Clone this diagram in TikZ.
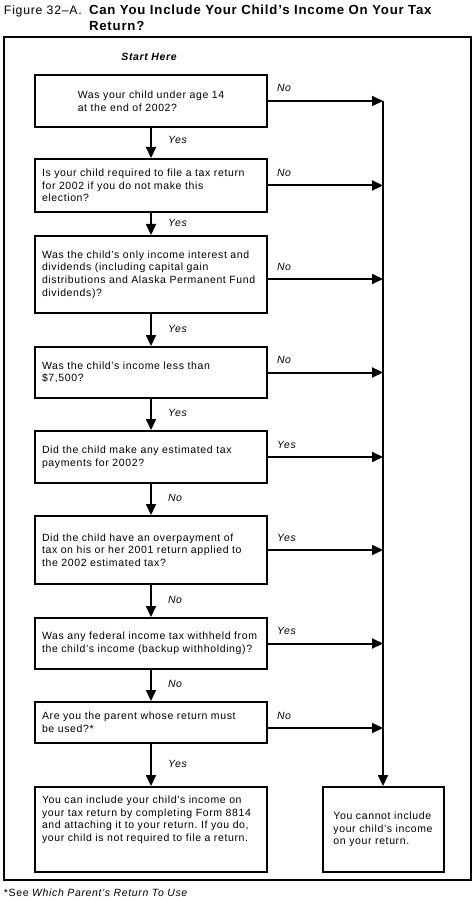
\documentclass[tikz,border=0pt]{standalone}
\usepackage{fontspec}
\setmainfont[LetterSpace=6]{Liberation Sans}
\usetikzlibrary{arrows.meta}
\frenchspacing

\begin{document}
\begin{tikzpicture}[x=1pt, y=-1pt, line width=2pt, >={Triangle[length=11pt,width=10pt]},
    box/.style={rectangle, draw, minimum width=232pt, align=left, font=\fontsize{10.5}{12.7}\selectfont},
    question/.style={box, text width=218pt, inner xsep=7pt},
    outcome/.style={rectangle, draw, minimum width=121pt, minimum height=85pt, align=left, font=\fontsize{10.5}{12.7}\selectfont},
    answer/.style={font=\fontsize{10.5}{12.7}\selectfont\itshape, inner sep=0pt, anchor=base west}]
    \useasboundingbox (0,0) rectangle (475,901);
    \node[anchor=base west, inner sep=0pt, font=\fontsize{12.3}{15}\selectfont] (figno) at (3,15) {Figure 32--A.};
    \node[anchor=base west, inner sep=0pt, font=\fontsize{13.2}{15}\selectfont\bfseries] (title) at (88,15) {Can You Include Your Child's Income On Your Tax};
    \node[anchor=base west, inner sep=0pt, font=\fontsize{13.2}{15}\selectfont\bfseries] (title2) at (88,31) {Return?};
    \draw (4,37) rectangle (471,880);
    \node[anchor=base, inner sep=0pt, font=\fontsize{10.5}{12.7}\selectfont\bfseries\itshape] (start) at (149,61) {Start Here};

    \node[box, minimum height=52pt] (q1) at (151,101) {Was your child under age 14\\at the end of 2002?};
    \node[question, minimum height=53pt] (q2) at (151,185.5) {Is your child required to file a tax return\\for 2002 if you do not make this\\election?};
    \node[question, minimum height=77pt] (q3) at (151,274.5) {Was the child's only income interest and\\dividends (including capital gain\\distributions and Alaska Permanent Fund\\dividends)?};
    \node[question, minimum height=51pt] (q4) at (151,372.5) {Was the child's income less than\\\$7,500?};
    \node[question, minimum height=52pt] (q5) at (151,457) {Did the child make any estimated tax\\payments for 2002?};
    \node[question, minimum height=68pt] (q6) at (151,550) {Did the child have an overpayment of\\tax on his or her 2001 return applied to\\the 2002 estimated tax?};
    \node[question, minimum height=51pt] (q7) at (151,643.5) {Was any federal income tax withheld from\\the child's income (backup withholding)?};
    \node[question, minimum height=41pt] (q8) at (151,722.5) {Are you the parent whose return must\\be used?*};
    \node[question, minimum height=85pt] (yes) at (151,829.5) {You can include your child's income on\\your tax return by completing Form 8814\\and attaching it to your return. If you do,\\your child is not required to file a return.\\[9pt]\mbox{}};
    \node[outcome] (no) at (383,829.5) {You cannot include\\your child's income\\on your return.};

    \coordinate (q3out) at ([yshift=-4.5pt]q3.east);
    \coordinate (q8out) at ([yshift=-5.5pt]q8.east);

    \draw[->] (q1.south) to node[answer, xshift=16pt, yshift=-1pt] {Yes} (q2.north);
    \draw[->] (q2.south) to node[answer, xshift=16pt, yshift=-2pt] {Yes} (q3.north);
    \draw[->] (q3.south) to node[answer, xshift=16pt, yshift=-2pt] {Yes} (q4.north);
    \draw[->] (q4.south) to node[answer, xshift=16pt, yshift=-2pt] {Yes} (q5.north);
    \draw[->] (q5.south) to node[answer, xshift=16pt, yshift=-2pt] {No} (q6.north);
    \draw[->] (q6.south) to node[answer, xshift=16pt, yshift=-2pt] {No} (q7.north);
    \draw[->] (q7.south) to node[answer, xshift=16pt, yshift=-2pt] {No} (q8.north);
    \draw[->] (q8.south) to node[answer, xshift=16pt, yshift=-2pt] {Yes} (yes.north);

    \draw[->] (q1.east) to node[answer, pos=0, xshift=8pt, yshift=9pt] {No} (q1.east -| no.north);
    \draw[->] (q2.east) to node[answer, pos=0, xshift=8pt, yshift=9pt] {No} (q2.east -| no.north);
    \draw[->] (q3out) to node[answer, pos=0, xshift=8pt, yshift=9pt] {No} (q3out -| no.north);
    \draw[->] (q4.east) to node[answer, pos=0, xshift=8pt, yshift=9pt] {No} (q4.east -| no.north);
    \draw[->] (q5.east) to node[answer, pos=0, xshift=8pt, yshift=9pt] {Yes} (q5.east -| no.north);
    \draw[->] (q6.east) to node[answer, pos=0, xshift=8pt, yshift=9pt] {Yes} (q6.east -| no.north);
    \draw[->] (q7.east) to node[answer, pos=0, xshift=8pt, yshift=9pt] {Yes} (q7.east -| no.north);
    \draw[->] (q8out) to node[answer, pos=0, xshift=8pt, yshift=9pt] {No} (q8out -| no.north);
    \draw[->] (q1.east -| no.north) to (no.north);

    \node[anchor=base west, inner sep=0pt, font=\fontsize{10.5}{12.7}\selectfont] (note) at (3,896) {*See \textit{Which Parent's Return To Use}};
\end{tikzpicture}
\end{document}
